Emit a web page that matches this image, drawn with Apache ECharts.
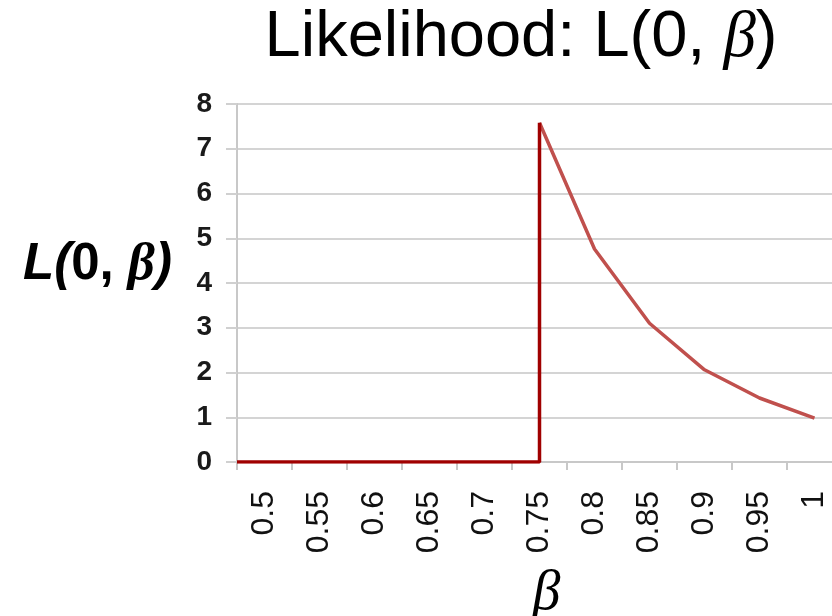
<!DOCTYPE html>
<html>
<head>
<meta charset="utf-8">
<title>Likelihood</title>
<script src="https://cdn.jsdelivr.net/npm/echarts@6/dist/echarts.min.js"></script>
<style>
    html, body { margin: 0; padding: 0; background: #fff; }
    #chart { width: 832px; height: 616px; }
</style>
</head>
<body>
<div id="chart"></div>
<script>
// tick labels on the category axis
const betaLabels = ['0.5', '0.55', '0.6', '0.65', '0.7', '0.75', '0.8', '0.85', '0.9', '0.95', '1'];

// zero part and the jump at 0.75
const stepBeta = [0.475, 0.75, 0.75];
const stepL = [0, 0, 7.58];

// decaying part
const curveBeta = [0.75, 0.8, 0.85, 0.9, 0.95, 1];
const curveL = [7.58, 4.76, 3.1, 2.06, 1.43, 0.98];

const yTicks = { min: 0, max: 8, interval: 1 };

const toPairs = (xs, ys) => xs.map((x, i) => [x, ys[i]]);

const chartDom = document.getElementById('chart');
const myChart = echarts.init(chartDom, null, { renderer: 'canvas' });

const sans = '"Liberation Sans", Arial, sans-serif';
const serif = '"Liberation Serif", "Times New Roman", serif';

const option = {
    animation: false,
    title: {
        text: 'Likelihood: L(0, {g|β})',
        left: 516,
        textAlign: 'center',
        top: 1,
        textStyle: {
            fontFamily: sans,
            fontSize: 65,
            fontWeight: 'normal',
            color: '#000',
            rich: {
                g: { fontFamily: serif, fontStyle: 'italic', fontSize: 65, color: '#000' }
            }
        }
    },
    grid: {
        left: 237,
        top: 104,
        width: 605,
        height: 358,
        outerBoundsMode: 'none'
    },
    xAxis: [
        {
            type: 'category',
            data: betaLabels,
            boundaryGap: true,
            name: '{g|β}',
            nameLocation: 'middle',
            nameGap: 104,
            nameTextStyle: {
                padding: [0, 0, 0, 14],
                rich: {
                    g: { fontFamily: serif, fontStyle: 'italic', fontSize: 56, color: '#000' }
                }
            },
            axisLine: { lineStyle: { color: '#c8c8c8', width: 2 } },
            axisTick: { show: true, length: 8, lineStyle: { color: '#c8c8c8', width: 2 } },
            axisLabel: {
                rotate: 90,
                margin: 29,
                fontFamily: sans,
                fontSize: 32,
                color: '#111'
            },
            splitLine: { show: false }
        },
        {
            type: 'value',
            min: 0.475,
            max: 1.025,
            show: false,
            splitLine: { show: false }
        }
    ],
    yAxis: {
        type: 'value',
        min: yTicks.min,
        max: yTicks.max,
        interval: yTicks.interval,
        name: '{i|L(}{b|0, }{g|β}{i|)}',
        nameLocation: 'middle',
        nameRotate: 0,
        nameGap: 65,
        nameTextStyle: {
            padding: [0, 0, 36, 0],
            rich: {
                i: { fontFamily: sans, fontStyle: 'italic', fontWeight: 'bold', fontSize: 51, color: '#000' },
                b: { fontFamily: sans, fontWeight: 'bold', fontSize: 51, color: '#000' },
                g: { fontFamily: serif, fontStyle: 'italic', fontWeight: 'bold', fontSize: 53, color: '#000' }
            }
        },
        axisLine: { show: true, lineStyle: { color: '#c8c8c8', width: 2 } },
        axisTick: { show: true, length: 11, lineStyle: { color: '#d0d0d0', width: 2 } },
        axisLabel: {
            margin: 25,
            fontFamily: sans,
            fontWeight: 'bold',
            fontSize: 28,
            color: '#1a1a1a'
        },
        splitLine: { lineStyle: { color: '#d4d4d4', width: 2 } }
    },
    series: [
        {
            name: 'curve',
            type: 'line',
            xAxisIndex: 1,
            data: toPairs(curveBeta, curveL),
            symbol: 'none',
            lineStyle: { color: '#c0504d', width: 3.5 }
        },
        {
            name: 'step',
            type: 'line',
            xAxisIndex: 1,
            data: toPairs(stepBeta, stepL),
            symbol: 'none',
            lineStyle: { color: '#a00000', width: 3.5 },
            z: 3
        }
    ]
};

if (option && typeof option === 'object') {
    myChart.setOption(option);
}
</script>
</body>
</html>
